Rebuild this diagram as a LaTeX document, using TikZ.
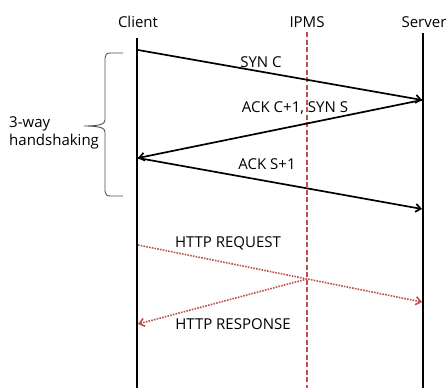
\documentclass[tikz,border=0pt]{standalone}
\usepackage{fontspec}
\setmainfont{Open Sans}
\usetikzlibrary{arrows.meta}
\definecolor{ipred}{RGB}{192,80,77}
\definecolor{bracegray}{RGB}{80,80,80}
\tikzset{
  lbl/.style={inner sep=0pt, font=\fontsize{15}{18}\selectfont, text=black},
  life/.style={line width=2.6pt, black},
  msg/.style={line width=1.7pt, black, -{Straight Barb[length=5pt,width=8pt]}},
  http/.style={line width=1.6pt, ipred, dash pattern=on 1.6pt off 1.2pt, -{Straight Barb[length=5pt,width=8pt]}},
  ipms/.style={line width=1.3pt, ipred, dash pattern=on 5pt off 2.5pt},
  bracestyle/.style={line width=0.9pt, bracegray}
}
\begin{document}
\begin{tikzpicture}[x=1pt,y=-1pt]
\useasboundingbox (0,0) rectangle (447,388);
% lifeline labels
\node[lbl] (clientlbl) at (138,22) {Client};
\node[lbl] (ipmslbl) at (307,22) {IPMS};
\node[lbl] (serverlbl) at (424,22) {Server};
% lifelines
\coordinate (ctop) at (137,38);
\coordinate (cbot) at (137,389);
\coordinate (stop) at (423,33);
\coordinate (sbot) at (423,389);
\coordinate (itop) at (307,32);
\coordinate (ibot) at (307,389);
\draw[ipms] (itop) -- (ibot);
\draw[life] (ctop) -- (cbot);
\draw[life] (stop) -- (sbot);
% message points
\coordinate (c1) at (138,50);
\coordinate (s1) at (422,100);
\coordinate (c2) at (138,158);
\coordinate (s2) at (422,209);
\coordinate (c3) at (138,245);
\coordinate (s3) at (422,302);
\coordinate (i3) at (307,279);
\coordinate (c4) at (138,324);
\draw[msg] (c1) -- (s1);
\draw[msg] (s1) -- (c2);
\draw[msg] (c2) -- (s2);
\draw[http] (c3) -- (s3);
\draw[http] (i3) -- (c4);
% message labels
\node[lbl] (synclbl) at (261,62) {SYN C};
\node[lbl] (acklbl) at (295,108) {ACK C+1, SYN S};
\node[lbl] (ackslbl) at (267,164) {ACK S+1};
\node[lbl] (reqlbl) at (228,243) {HTTP REQUEST};
\node[lbl] (resplbl) at (233,324) {HTTP RESPONSE};
% brace
\draw[bracestyle] (123,53) -- (110,53) .. controls (106.5,53) and (105,55) .. (105,58)
  -- (105,120) .. controls (105,124) and (100,126) .. (84,126)
  .. controls (100,126) and (105,128) .. (105,132)
  -- (105,191) .. controls (105,194) and (106.5,196) .. (110,196) -- (123,196);
\node[lbl, align=left, anchor=west] (hslbl) at (9,133) {3-way\\handshaking};
\end{tikzpicture}
\end{document}
